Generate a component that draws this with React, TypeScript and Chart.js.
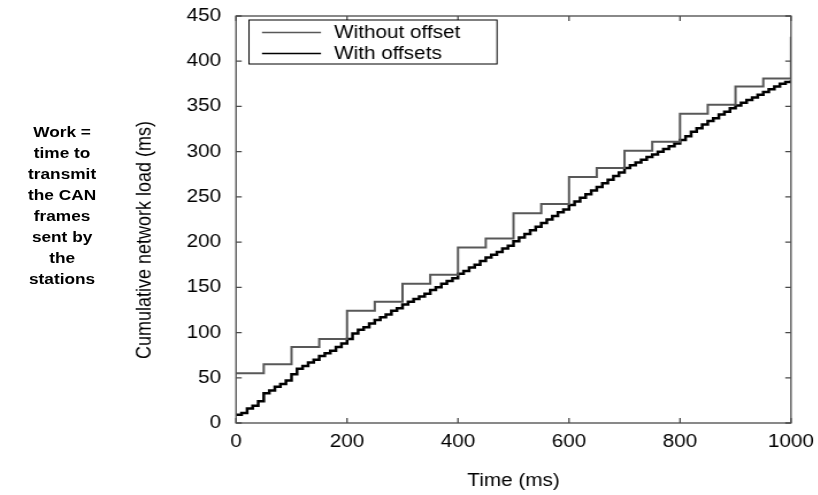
import React, { useEffect, useRef } from "react";
import { Chart, registerables } from "chart.js";
Chart.register(...registerables);

// ---- data ----
const timeWithout = [0, 50, 100, 150, 200, 250, 300, 350, 400, 450, 500, 550, 600, 650, 700, 750, 800, 850, 900, 950, 1000];
const loadWithout = [55, 65, 84, 93, 124, 134, 154, 164, 194, 204, 232, 242, 272, 282, 301, 311, 342, 352, 372, 381, 427];

const timeWith = [
  0, 10, 20, 30, 40, 50, 60, 70, 80, 90,
  100, 110, 120, 130, 140, 150, 160, 170, 180, 190,
  200, 210, 220, 230, 240, 250, 260, 270, 280, 290,
  300, 310, 320, 330, 340, 350, 360, 370, 380, 390,
  400, 410, 420, 430, 440, 450, 460, 470, 480, 490,
  500, 510, 520, 530, 540, 550, 560, 570, 580, 590,
  600, 610, 620, 630, 640, 650, 660, 670, 680, 690,
  700, 710, 720, 730, 740, 750, 760, 770, 780, 790,
  800, 810, 820, 830, 840, 850, 860, 870, 880, 890,
  900, 910, 920, 930, 940, 950, 960, 970, 980, 990,
  1000,
];
const loadWith = [
  9, 11, 16, 19, 24, 33, 36, 40, 43, 47,
  54, 60, 63, 67, 70, 74, 77, 80, 84, 88,
  93, 99, 103, 106, 110, 114, 117, 120, 124, 127,
  131, 134, 137, 140, 143, 147, 150, 154, 157, 160,
  165, 168, 172, 175, 179, 183, 186, 189, 193, 196,
  201, 205, 209, 213, 217, 221, 225, 229, 233, 236,
  241, 245, 249, 253, 257, 261, 265, 269, 273, 277,
  282, 285, 288, 291, 294, 297, 300, 303, 306, 309,
  313, 317, 322, 326, 330, 334, 337, 341, 344, 348,
  351, 354, 357, 360, 363, 366, 369, 372, 375, 377,
  379,
];

const xTicks = [0, 200, 400, 600, 800, 1000];
const yTicks = [0, 50, 100, 150, 200, 250, 300, 350, 400, 450];
const seriesLabels = ["Without offset", "With offsets"];
const xTitle = "Time (ms)";
const yTitle = "Cumulative network load (ms)";
const noteLines = ["Work =", "time to", "transmit", "the CAN", "frames", "sent by", "the", "stations"];

// ---- layout ----
const SX = 1.15;
const W = Math.round(818 / SX);
const H = 495;
const AREA_L = 236 / SX;
const AREA_R = 791 / SX;
const AREA_T = 16;
const AREA_B = 423;
const FONT = "'Liberation Sans', Arial, sans-serif";
const FS = 18;

const framePlugin = {
  id: "frameTicks",
  afterDraw(chart: any) {
    const { ctx, chartArea, scales } = chart;
    const { left, right, top, bottom } = chartArea;
    ctx.save();
    ctx.strokeStyle = "#4a4a4a";
    ctx.lineWidth = 1.3;
    ctx.strokeRect(left, top, right - left, bottom - top);
    const tl = 5;
    ctx.beginPath();
    yTicks.forEach((v) => {
      const py = scales.y.getPixelForValue(v);
      ctx.moveTo(left, py);
      ctx.lineTo(left + tl, py);
      ctx.moveTo(right, py);
      ctx.lineTo(right - tl, py);
    });
    xTicks.forEach((v) => {
      const px = scales.x.getPixelForValue(v);
      ctx.moveTo(px, bottom);
      ctx.lineTo(px, bottom - tl);
      ctx.moveTo(px, top);
      ctx.lineTo(px, top + tl);
    });
    ctx.stroke();

    // y-axis title
    ctx.fillStyle = "#000";
    ctx.font = `${FS}px ${FONT}`;
    ctx.textAlign = "center";
    ctx.textBaseline = "middle";
    ctx.save();
    ctx.translate(145 / SX, 240);
    ctx.rotate(-Math.PI / 2);
    ctx.fillText(yTitle, 0, 0);
    ctx.restore();

    // legend
    const bx = 249 / SX, by = 20, bw = (497 - 249) / SX, bh = 44;
    ctx.fillStyle = "#fff";
    ctx.fillRect(bx, by, bw, bh);
    ctx.strokeStyle = "#000";
    ctx.lineWidth = 1;
    ctx.strokeRect(bx, by, bw, bh);
    const rows = [32.5, 53.5];
    chart.data.datasets.forEach((ds: any, i: number) => {
      const yy = rows[i];
      ctx.strokeStyle = ds.borderColor;
      ctx.lineWidth = 1.6;
      ctx.beginPath();
      ctx.moveTo(262 / SX, yy);
      ctx.lineTo(321 / SX, yy);
      ctx.stroke();
      ctx.fillStyle = "#000";
      ctx.font = `${FS}px ${FONT}`;
      ctx.textBaseline = "middle";
      ctx.textAlign = "left";
      ctx.fillText(ds.label, 334 / SX, yy + 0.5);
    });
    ctx.restore();
  },
};

export default function App() {
  const ref = useRef<HTMLCanvasElement | null>(null);
  useEffect(() => {
    if (!ref.current) return;
    const chart = new Chart(ref.current, {
      type: "line",
      data: {
        datasets: [
          {
            label: seriesLabels[0],
            data: timeWithout.map((t, i) => ({ x: t, y: loadWithout[i] })),
            borderColor: "#585858",
            borderWidth: 2,
            stepped: true,
            pointRadius: 0,
            fill: false,
          },
          {
            label: seriesLabels[1],
            data: timeWith.map((t, i) => ({ x: t, y: loadWith[i] })),
            borderColor: "#000000",
            borderWidth: 2.5,
            stepped: true,
            pointRadius: 0,
            fill: false,
          },
        ],
      },
      options: {
        animation: false,
        responsive: true,
        maintainAspectRatio: false,
        layout: { padding: { left: 0, right: W - AREA_R, top: AREA_T, bottom: 0 } },
        plugins: { legend: { display: false }, tooltip: { enabled: false } },
        scales: {
          x: {
            type: "linear",
            min: 0,
            max: 1000,
            afterBuildTicks: (s: any) => { s.ticks = xTicks.map((v) => ({ value: v })); },
            afterFit: (s: any) => { s.height = H - AREA_B; s.paddingLeft = 0; s.paddingRight = 0; },
            grid: { display: false, drawTicks: false },
            border: { display: false },
            ticks: { color: "#000", font: { family: FONT, size: FS }, padding: 8, maxRotation: 0, callback: (v: any) => String(v) },
            title: { display: true, text: xTitle, color: "#000", font: { family: FONT, size: FS }, padding: { top: 0, bottom: 3 } },
          },
          y: {
            type: "linear",
            min: 0,
            max: 450,
            afterBuildTicks: (s: any) => { s.ticks = yTicks.map((v) => ({ value: v })); },
            afterFit: (s: any) => { s.width = AREA_L; s.paddingTop = 0; s.paddingBottom = 0; },
            grid: { display: false, drawTicks: false },
            border: { display: false },
            ticks: { color: "#000", font: { family: FONT, size: FS }, padding: 13, callback: (v: any) => String(v) },
            title: { display: false },
          },
        },
      },
      plugins: [framePlugin],
    });
    return () => chart.destroy();
  }, []);

  return (
    <div style={{ position: "absolute", left: 0, top: 0, width: W, height: H, transform: `scaleX(${SX})`, transformOrigin: "0 0", background: "#fff" }}>
      <div style={{ position: "absolute", left: 0, top: 0, width: W, height: H }}>
        <canvas ref={ref} />
      </div>
      <div
        style={{
          position: "absolute",
          left: 0,
          top: 120.5,
          width: 108,
          textAlign: "center",
          fontFamily: FONT,
          fontWeight: "bold",
          fontSize: 15,
          lineHeight: "21px",
          color: "#000",
        }}
      >
        {noteLines.map((l, i) => (
          <div key={i}>{l}</div>
        ))}
      </div>
    </div>
  );
}
